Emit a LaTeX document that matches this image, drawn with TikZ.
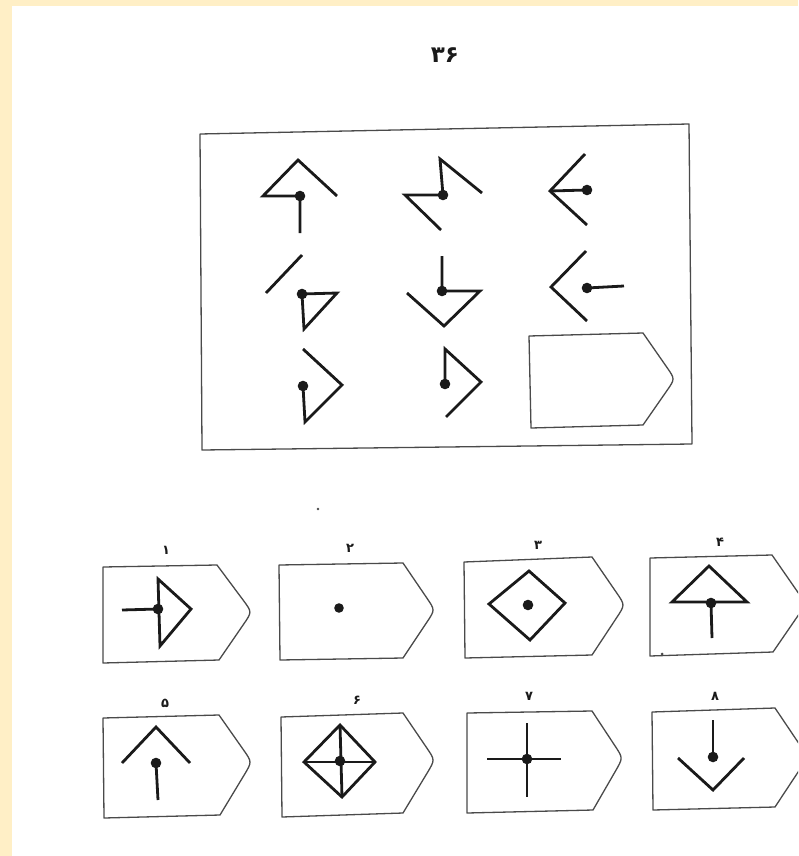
\documentclass[tikz,border=0pt]{standalone}
\usepackage{fontspec}
\newfontfamily\persian[Script=Arabic]{DejaVu Sans}
\usetikzlibrary{calc}
\definecolor{pageyellow}{HTML}{FFEFC6}
\definecolor{ink}{HTML}{1A1A1A}
\definecolor{frameink}{HTML}{4A4A4A}
\tikzset{
  figline/.style={draw=ink, line width=2.8pt, line join=miter},
  boxline/.style={draw=frameink, line width=1.3pt, line join=round},
  lbl/.style={font=\persian\bfseries\fontsize{13}{13}\selectfont, text=ink, inner sep=0pt},
}
\newcommand\tagshape[5]{\draw[boxline] #1 -- #2 -- ($#2!0.75!#3$) .. controls #3 .. ($#4!0.75!#3$) -- #4 -- #5 -- cycle;}
\newcommand\blackdot[1]{\fill[ink] #1 circle (5.3pt);}
\begin{document}
\begin{tikzpicture}[x=1pt,y=-1pt]
\useasboundingbox (0,0) rectangle (798,856);
\clip (0,0) rectangle (798,856);
\fill[pageyellow] (0,0) rectangle (798,856);
\fill[white] (12,6) rectangle (798,856);

% title
\node[font=\persian\bfseries\fontsize{23}{23}\selectfont, text=ink, inner sep=0pt] (title) at (445,55) {۳۶};

% main frame
\draw[boxline] (200,134) -- (689,124) -- (692,444) -- (202,450) -- cycle;

% row 1
\draw[figline] (337,196) -- (298,160) -- (263,196) -- (300,196) -- (300,233);
\blackdot{(300,196)}
\draw[figline] (482,193) -- (440,159) -- (443,195) -- (405,195) -- (441,230);
\blackdot{(443,195)}
\draw[figline] (585,154) -- (550,191) -- (587,225);
\draw[figline] (550,191) -- (587,190);
\blackdot{(587,190)}

% row 2
\draw[figline] (302,255) -- (266,293);
\draw[figline] (302,294) -- (337,293) -- (304,329) -- cycle;
\blackdot{(302,294)}
\draw[figline] (442,256) -- (442,291) -- (480,291) -- (444,326) -- (407,293);
\blackdot{(442,291)}
\draw[figline] (586,251) -- (551,287) -- (587,321);
\draw[figline] (587,288) -- (624,286);
\blackdot{(587,288)}

% row 3
\draw[figline] (303,349) -- (342,385) -- (305,422) -- (303,386);
\blackdot{(303,386)}
\draw[figline] (445,384) -- (445,349) -- (481,382) -- (446,417);
\blackdot{(445,384)}
\tagshape{(529,336)}{(643,333)}{(675,379)}{(643,425)}{(531,428)}

% speck
\fill[frameink] (318,509) circle (1.3pt);

% answer boxes
\tagshape{(103,567)}{(217,565)}{(252,612)}{(219,660)}{(103,663)}
\tagshape{(279,565)}{(403,563)}{(435,610)}{(403,658)}{(280,660)}
\tagshape{(464,562)}{(592,557)}{(625,605)}{(592,655)}{(465,658)}
\tagshape{(650,558)}{(772,555)}{(806,604)}{(773,652)}{(650,656)}
\tagshape{(103,718)}{(219,715)}{(252,762)}{(220,815)}{(104,818)}
\tagshape{(281,717)}{(403,713)}{(435,760)}{(403,813)}{(282,817)}
\tagshape{(467,713)}{(592,711)}{(623,758)}{(593,810)}{(467,813)}
\tagshape{(652,712)}{(775,708)}{(808,757)}{(775,807)}{(653,810)}

% labels
\node[lbl] (l1) at (166,550) {۱};
\node[lbl] (l2) at (350,548) {۲};
\node[lbl] (l3) at (538,545) {۳};
\node[lbl] (l4) at (720,542) {۴};
\node[lbl] (l5) at (165,703) {۵};
\node[lbl] (l6) at (357,700) {۶};
\node[lbl] (l7) at (529,696) {۷};
\node[lbl] (l8) at (715,696) {۸};

% box 1
\draw[figline] (122,610) -- (158,609);
\draw[figline] (158,579) -- (191,609) -- (160,646) -- cycle;
\blackdot{(158,609)}
% box 2
\fill[ink] (339,608) circle (4.8pt);
% box 3
\draw[figline] (529,571) -- (565,603) -- (530,640) -- (489,604) -- cycle;
\blackdot{(528,605)}
% box 4
\draw[figline] (672,602) -- (709,566) -- (747,602) -- cycle;
\draw[figline] (711,603) -- (712,638);
\blackdot{(711,603)}
\fill[frameink] (662,654) circle (1.5pt);
% box 5
\draw[figline] (122,763) -- (156,727) -- (190,763);
\draw[figline] (156,763) -- (158,800);
\blackdot{(156,763)}
% box 6
\draw[figline] (340,725) -- (375,762) -- (342,797) -- (304,762) -- cycle;
\draw[figline] (340,725) -- (342,797);
\draw[figline] (304,762) -- (375,762);
\blackdot{(340,761)}
% box 7
\draw[figline] (487,759) -- (561,759);
\draw[figline] (527,723) -- (527,797);
\blackdot{(527,759)}
% box 8
\draw[figline] (713,720) -- (713,757);
\draw[figline] (678,758) -- (713,790) -- (744,758);
\blackdot{(713,757)}
\end{tikzpicture}
\end{document}
